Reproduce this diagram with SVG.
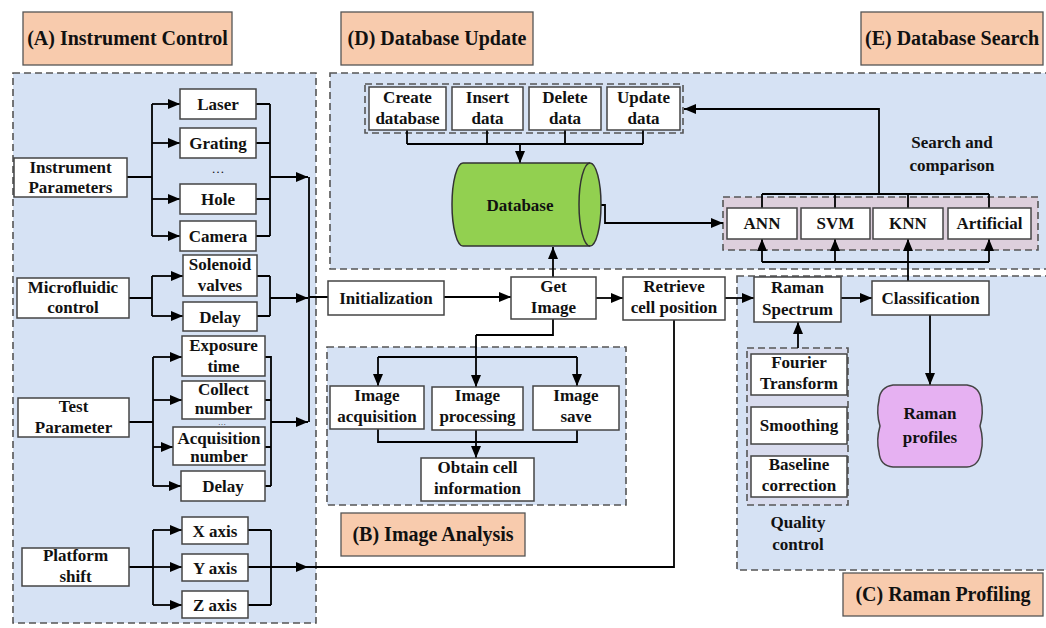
<svg xmlns="http://www.w3.org/2000/svg" width="1046" height="628" viewBox="0 0 1046 628">
<defs>
<marker id="ah" viewBox="0 0 12 10" refX="12" refY="5" markerWidth="12" markerHeight="10" markerUnits="userSpaceOnUse" orient="auto">
<path d="M0,0 L12,5 L0,10 Z" fill="#000"/>
</marker>
<style>
.panel{fill:#D6E2F4;stroke:#555;stroke-width:1.6;stroke-dasharray:7 4}
.grp{fill:none;stroke:#555;stroke-width:1.6;stroke-dasharray:7 4}
.box{fill:#fff;stroke:#444;stroke-width:1.5}
.ttl{fill:#F8CBAD;stroke:#555;stroke-width:1.3}
.t{font-family:"Liberation Serif","Times New Roman",serif;font-weight:bold;font-size:17px;text-anchor:middle;fill:#111}
.tt{font-size:20px}
.c{fill:none;stroke:#000;stroke-width:1.8}
.a{marker-end:url(#ah)}
</style>
</defs>
<rect width="1046" height="628" fill="#fff"/>

<!-- panels -->
<g id="panelA"><rect class="panel" x="13" y="73" width="303" height="550"/></g>
<g id="panelD"><rect class="panel" x="330" y="73" width="730" height="196"/></g>
<g id="panelC"><rect class="panel" x="737" y="276" width="320" height="294"/></g>
<g id="panelB"><rect class="panel" x="327" y="347" width="299" height="158"/></g>
<g id="updateGroup"><rect class="grp" x="365" y="84" width="318" height="49"/></g>
<g id="searchGroup"><rect class="grp" x="723" y="197" width="315" height="53" style="fill:#DDCFDC"/></g>
<g id="qualityGroup"><rect class="grp" x="747" y="348" width="101" height="157" style="fill:#D9DCEE"/></g>

<!-- titles -->
<g id="titleA"><rect class="ttl" x="23" y="12" width="209" height="53"/><text class="t tt" x="127.5" y="45">(A) Instrument Control</text></g>
<g id="titleD"><rect class="ttl" x="341" y="12" width="192" height="53"/><text class="t tt" x="437" y="45">(D) Database Update</text></g>
<g id="titleE"><rect class="ttl" x="861" y="12" width="182" height="53"/><text class="t tt" x="952" y="45">(E) Database Search</text></g>
<g id="titleB"><rect class="ttl" x="341" y="513" width="184" height="43"/><text class="t tt" x="433" y="541">(B) Image Analysis</text></g>
<g id="titleC"><rect class="ttl" x="843" y="573" width="200" height="43"/><text class="t tt" x="943" y="601">(C) Raman Profiling</text></g>

<!-- connectors -->
<g id="connectors">
<path class="c" d="M127,177 H152 M152,104 V236"/>
<path class="c a" d="M152,104 H180"/>
<path class="c a" d="M152,143 H180"/>
<path class="c a" d="M152,199 H180"/>
<path class="c a" d="M152,236 H180"/>
<path class="c" d="M256,104 H270 M256,143 H270 M256,199 H270 M256,236 H270 M270,104 V236"/>
<path class="c a" d="M270,177 H308"/>
<path class="c" d="M129,298 H152 M152,276 V316"/>
<path class="c a" d="M152,276 H183"/>
<path class="c a" d="M152,316 H183"/>
<path class="c" d="M257,276 H270 M257,316 H270 M270,276 V316"/>
<path class="c a" d="M270,298 H308"/>
<path class="c" d="M129,422 H153 M153,357 V486"/>
<path class="c a" d="M153,357 H182"/>
<path class="c a" d="M153,400 H182"/>
<path class="c a" d="M153,447 H173"/>
<path class="c a" d="M153,486 H181"/>
<path class="c" d="M265,357 H271 M265,400 H271 M265,447 H271 M265,486 H271 M271,356 V486"/>
<path class="c a" d="M271,422 H308"/>
<path class="c" d="M309,177 V422 M309,297 H328"/>
<path class="c" d="M129,567 H153 M153,530 V605"/>
<path class="c a" d="M153,530 H182"/>
<path class="c a" d="M153,567 H182"/>
<path class="c a" d="M153,605 H182"/>
<path class="c" d="M248,530 H271 M248,567 H271 M248,605 H271 M271,530 V605"/>
<path class="c a" d="M271,567 H308"/>
<path class="c" d="M306,567 H674 V320"/>
<path class="c a" d="M444,297 H511"/>
<path class="c a" d="M596,298 H623"/>
<path class="c a" d="M725,298 H754"/>
<path class="c a" d="M841,298 H872"/>
<path class="c a" d="M553,277 V247"/>
<path class="c" d="M553,319 V335 H476"/>
<path class="c a" d="M476,335 V387"/>
<path class="c" d="M378,357 H577"/>
<path class="c a" d="M378,357 V386"/>
<path class="c a" d="M577,357 V386"/>
<path class="c" d="M378,429 V442 H577 V430"/>
<path class="c a" d="M476,430 V458"/>
<path class="c" d="M407,130 V144 M487,130 V144 M565,130 V144 M643,130 V144 M407,144 H643"/>
<path class="c a" d="M520,144 V163"/>
<path class="c a" d="M601,205 H605 V223 H723"/>
<path class="c" d="M762,208 V194 M835,208 V194 M908,208 V194 M989,208 V194 M762,194 H989"/>
<path class="c a" d="M879,194 V109 H684"/>
<path class="c a" d="M908,281 V239"/>
<path class="c" d="M762,262 H989"/>
<path class="c a" d="M762,262 V239"/>
<path class="c a" d="M835,262 V239"/>
<path class="c a" d="M989,262 V239"/>
<path class="c a" d="M798,348 V322"/>
<path class="c a" d="M930,315 V385"/>
</g>

<!-- left nodes -->
<g id="instParams"><rect class="box" x="14" y="158" width="113" height="39"/><text class="t" x="70.5" y="173">Instrument</text><text class="t" x="70.5" y="193">Parameters</text></g>
<g id="laser"><rect class="box" x="180" y="89" width="76" height="30"/><text class="t" x="218" y="110">Laser</text></g>
<g id="grating"><rect class="box" x="180" y="128" width="76" height="30"/><text class="t" x="218" y="149">Grating</text></g>
<g id="dots1"><text class="t" x="218" y="173" style="font-weight:normal;font-size:13px">…</text></g>
<g id="hole"><rect class="box" x="180" y="184" width="76" height="30"/><text class="t" x="218" y="205">Hole</text></g>
<g id="camera"><rect class="box" x="180" y="221" width="76" height="30"/><text class="t" x="218" y="242">Camera</text></g>
<g id="microfluidic"><rect class="box" x="17" y="278" width="112" height="40"/><text class="t" x="73" y="293">Microfluidic</text><text class="t" x="73" y="313">control</text></g>
<g id="solenoid"><rect class="box" x="183" y="255" width="74" height="41"/><text class="t" x="220" y="270">Solenoid</text><text class="t" x="220" y="291">valves</text></g>
<g id="delay1"><rect class="box" x="183" y="302" width="74" height="29"/><text class="t" x="220" y="323">Delay</text></g>
<g id="testParam"><rect class="box" x="18" y="398" width="111" height="39"/><text class="t" x="73.5" y="412">Test</text><text class="t" x="73.5" y="433">Parameter</text></g>
<g id="exposure"><rect class="box" x="182" y="336" width="83" height="40"/><text class="t" x="223.5" y="351">Exposure</text><text class="t" x="223.5" y="372">time</text></g>
<g id="collect"><rect class="box" x="182" y="381" width="83" height="38"/><text class="t" x="223.5" y="395">Collect</text><text class="t" x="223.5" y="414">number</text></g>
<g id="dots2"><text class="t" x="222" y="425" style="font-weight:normal;font-size:8px">…</text></g>
<g id="acquisition"><rect class="box" x="173" y="427" width="92" height="38"/><text class="t" x="219" y="444">Acquisition</text><text class="t" x="219" y="462">number</text></g>
<g id="delay2"><rect class="box" x="181" y="471" width="84" height="30"/><text class="t" x="223" y="492">Delay</text></g>
<g id="platform"><rect class="box" x="22" y="548" width="107" height="38"/><text class="t" x="75.5" y="561">Platform</text><text class="t" x="75.5" y="582">shift</text></g>
<g id="xaxis"><rect class="box" x="182" y="517" width="66" height="27"/><text class="t" x="215" y="537">X axis</text></g>
<g id="yaxis"><rect class="box" x="182" y="554" width="66" height="27"/><text class="t" x="215" y="574">Y axis</text></g>
<g id="zaxis"><rect class="box" x="182" y="591" width="66" height="27"/><text class="t" x="215" y="611">Z axis</text></g>

<!-- database update nodes -->
<g id="createDb"><rect class="box" x="369" y="87" width="77" height="43"/><text class="t" x="407.5" y="103">Create</text><text class="t" x="407.5" y="124">database</text></g>
<g id="insertData"><rect class="box" x="452" y="87" width="71" height="43"/><text class="t" x="487.5" y="103">Insert</text><text class="t" x="487.5" y="124">data</text></g>
<g id="deleteData"><rect class="box" x="529" y="87" width="72" height="43"/><text class="t" x="565" y="103">Delete</text><text class="t" x="565" y="124">data</text></g>
<g id="updateData"><rect class="box" x="607" y="87" width="73" height="43"/><text class="t" x="643.5" y="103">Update</text><text class="t" x="643.5" y="124">data</text></g>
<g id="database">
<path d="M463,163 L590,163 A11,41.5 0 0 1 590,246 L463,246 A11,41.5 0 0 1 463,163 Z" fill="#92D050" stroke="#333" stroke-width="1.5"/>
<path d="M590,163 A11,41.5 0 0 0 590,246" fill="none" stroke="#333" stroke-width="1.5"/>
<text class="t" x="520" y="211">Database</text>
</g>

<!-- search nodes -->
<g id="ann"><rect class="box" x="727" y="208" width="70" height="31"/><text class="t" x="762" y="229">ANN</text></g>
<g id="svm"><rect class="box" x="801" y="208" width="69" height="31"/><text class="t" x="835.5" y="229">SVM</text></g>
<g id="knn"><rect class="box" x="873" y="208" width="70" height="31"/><text class="t" x="908" y="229">KNN</text></g>
<g id="artificial"><rect class="box" x="948" y="208" width="83" height="31"/><text class="t" x="989.5" y="229">Artificial</text></g>
<g id="searchLabel"><text class="t" x="952" y="148">Search and</text><text class="t" x="952" y="171">comparison</text></g>

<!-- main flow nodes -->
<g id="init"><rect class="box" x="328" y="281" width="116" height="34"/><text class="t" x="386" y="304">Initialization</text></g>
<g id="getImage"><rect class="box" x="511" y="277" width="85" height="42"/><text class="t" x="553.5" y="292">Get</text><text class="t" x="553.5" y="313">Image</text></g>
<g id="retrieve"><rect class="box" x="623" y="277" width="102" height="43"/><text class="t" x="674" y="292">Retrieve</text><text class="t" x="674" y="313">cell position</text></g>
<g id="ramanSpectrum"><rect class="box" x="754" y="277" width="87" height="45"/><text class="t" x="797.5" y="293">Raman</text><text class="t" x="797.5" y="315">Spectrum</text></g>
<g id="classification"><rect class="box" x="872" y="281" width="117" height="34"/><text class="t" x="930.5" y="304">Classification</text></g>

<!-- image analysis nodes -->
<g id="imgAcq"><rect class="box" x="330" y="386" width="94" height="43"/><text class="t" x="377" y="401">Image</text><text class="t" x="377" y="422">acquisition</text></g>
<g id="imgProc"><rect class="box" x="432" y="387" width="91" height="43"/><text class="t" x="477.5" y="401">Image</text><text class="t" x="477.5" y="422">processing</text></g>
<g id="imgSave"><rect class="box" x="533" y="386" width="86" height="44"/><text class="t" x="576" y="401">Image</text><text class="t" x="576" y="422">save</text></g>
<g id="obtainCell"><rect class="box" x="421" y="458" width="113" height="43"/><text class="t" x="477.5" y="473">Obtain cell</text><text class="t" x="477.5" y="494">information</text></g>

<!-- raman nodes -->
<g id="fourier"><rect class="box" x="751" y="354" width="96" height="41"/><text class="t" x="799" y="368">Fourier</text><text class="t" x="799" y="389">Transform</text></g>
<g id="smoothing"><rect class="box" x="751" y="407" width="96" height="37"/><text class="t" x="799" y="431">Smoothing</text></g>
<g id="baseline"><rect class="box" x="751" y="456" width="96" height="41"/><text class="t" x="799" y="470">Baseline</text><text class="t" x="799" y="491">correction</text></g>
<g id="qualityLabel"><text class="t" x="798" y="528">Quality</text><text class="t" x="798" y="550">control</text></g>
<g id="ramanProfiles">
<path d="M893,385 L967,385 Q980,387 981,400 Q984,413 980,426 Q984,440 981,452 Q979,466 967,467 L893,467 Q880,466 879,452 Q876,440 880,426 Q876,413 879,400 Q880,387 893,385 Z" fill="#E6B1F2" stroke="#444" stroke-width="1.5"/>
<text class="t" x="930" y="419">Raman</text><text class="t" x="930" y="443">profiles</text>
</g>
</svg>
